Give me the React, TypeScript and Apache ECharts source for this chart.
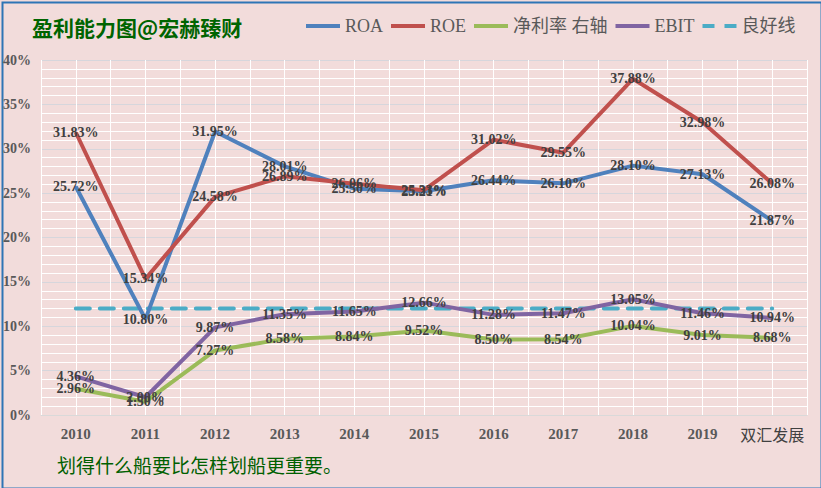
import React, { useEffect, useRef } from "react";
import * as echarts from "echarts";

const categories = ["2010", "2011", "2012", "2013", "2014", "2015", "2016", "2017", "2018", "2019", "双汇发展"];
const roa = [25.72, 10.8, 31.95, 28.01, 25.5, 25.21, 26.44, 26.1, 28.1, 27.13, 21.87];
const roe = [31.83, 15.34, 24.58, 26.89, 26.06, 25.33, 31.02, 29.55, 37.88, 32.98, 26.08];
const netMargin = [2.96, 1.5, 7.27, 8.58, 8.84, 9.52, 8.5, 8.54, 10.04, 9.01, 8.68];
const ebit = [4.36, 2.0, 9.87, 11.35, 11.65, 12.66, 11.28, 11.47, 13.05, 11.46, 10.94];
const goodLine = [12, 12, 12, 12, 12, 12, 12, 12, 12, 12, 12];
const yTicks = { min: 0, max: 40, interval: 5 };

const SERIF = "'Liberation Serif', 'Times New Roman', 'Noto Sans CJK SC', serif";
const CJK = "'Noto Sans CJK SC', sans-serif";
const LINE_ICON = "path://M0,0h34v4h-34z";
const DASH_ICON = "path://M0,0h12v4h-12z M22,0h12v4h-12z";

export default function App() {
  const ref = useRef<HTMLDivElement>(null);
  useEffect(() => {
    document.body.style.margin = "0";
    const chart = echarts.init(ref.current!, null, { renderer: "svg" });
    const label = {
      show: true,
      position: "inside",
      formatter: (p: any) => Number(p.value).toFixed(2) + "%",
      color: "#404040",
      fontFamily: SERIF,
      fontWeight: "bold",
      fontSize: 14,
    };
    const mk = (name: string, data: number[], color: string, yAxisIndex = 0) => ({
      name,
      type: "line",
      data,
      yAxisIndex,
      xAxisIndex: 0,
      symbol: "circle",
      symbolSize: 2,
      showSymbol: true,
      lineStyle: { color, width: 4 },
      itemStyle: { color },
      label,
      labelLayout: { hideOverlap: false },
      z: 3,
    });
    chart.setOption({
      animation: false,
      backgroundColor: "#f2dcdb",
      title: {
        text: "盈利能力图@宏赫臻财",
        left: 27,
        top: 11,
        textStyle: { fontSize: 21, fontWeight: "bold", color: "#006400", fontFamily: CJK },
      },
      legend: {
        left: 301,
        top: 12,
        itemWidth: 34,
        itemHeight: 4,
        itemGap: 8,
        textStyle: { fontSize: 18, color: "#595959", fontFamily: SERIF },
        data: [
          { name: "ROA", icon: LINE_ICON },
          { name: "ROE", icon: LINE_ICON },
          { name: "净利率 右轴", icon: LINE_ICON },
          { name: "EBIT", icon: LINE_ICON },
          { name: "良好线", icon: DASH_ICON },
        ],
      },
      grid: { left: 40, right: 14, top: 60, bottom: 73 },
      xAxis: [
        {
          type: "category",
          data: categories,
          boundaryGap: true,
          axisLine: { show: true, lineStyle: { color: "#d9d9d9", width: 1 } },
          axisTick: { show: false },
          splitLine: { show: false },
          axisLabel: {
            interval: 0,
            margin: 11,
            color: "#595959",
            fontFamily: SERIF,
            fontWeight: "bold",
            fontSize: 15,
            formatter: (v: string) => (/^\d+$/.test(v) ? v : "{c|" + v + "}"),
            rich: {
              c: { fontFamily: CJK, fontWeight: "normal", fontSize: 16, color: "#404040" },
            },
          },
        },
        {
          type: "value",
          min: 0,
          max: 22,
          interval: 1,
          position: "top",
          axisLine: { show: false },
          axisTick: { show: false },
          axisLabel: { show: false },
          splitLine: { show: true, lineStyle: { color: "#ffffff", width: 1 } },
        },
      ],
      yAxis: [
        {
          type: "value",
          min: yTicks.min,
          max: yTicks.max,
          interval: yTicks.interval,
          axisLine: { show: false },
          axisTick: { show: false },
          axisLabel: {
            formatter: "{value}%",
            margin: 10,
            color: "#595959",
            fontFamily: SERIF,
            fontWeight: "bold",
            fontSize: 14,
          },
          splitLine: { show: true, lineStyle: { color: "#d6d6dc", width: 1 } },
          minorTick: { show: false, splitNumber: 5 },
          minorSplitLine: { show: true, lineStyle: { color: "#ffffff", width: 1 } },
        },
        {
          type: "value",
          min: yTicks.min,
          max: yTicks.max,
          interval: yTicks.interval,
          show: false,
          splitLine: { show: false },
        },
      ],
      series: [
        mk("ROA", roa, "#4f81bd"),
        mk("ROE", roe, "#c0504d"),
        mk("净利率 右轴", netMargin, "#9bbb59", 1),
        mk("EBIT", ebit, "#8064a2"),
        {
          name: "良好线",
          type: "line",
          data: goodLine,
          symbol: "none",
          lineStyle: { color: "#4bacc6", width: 4, type: [14, 10], cap: "round" },
          itemStyle: { color: "#4bacc6" },
          label: { show: false },
          z: 2,
        },
      ],
      graphic: [
        {
          type: "text",
          left: 57,
          top: 455,
          style: { text: "划得什么船要比怎样划船更重要。", fontSize: 19, fill: "#006000", fontFamily: CJK },
        },
        {
          type: "rect",
          left: 0,
          top: 0,
          shape: { x: 0, y: 0, width: 819, height: 486 },
          style: { fill: "none", stroke: "#2e75b6", lineWidth: 2 },
          silent: true,
        },
      ],
    });
    return () => chart.dispose();
  }, []);
  return <div ref={ref} style={{ width: 821, height: 488, position: "absolute", left: 0, top: 0 }} />;
}
